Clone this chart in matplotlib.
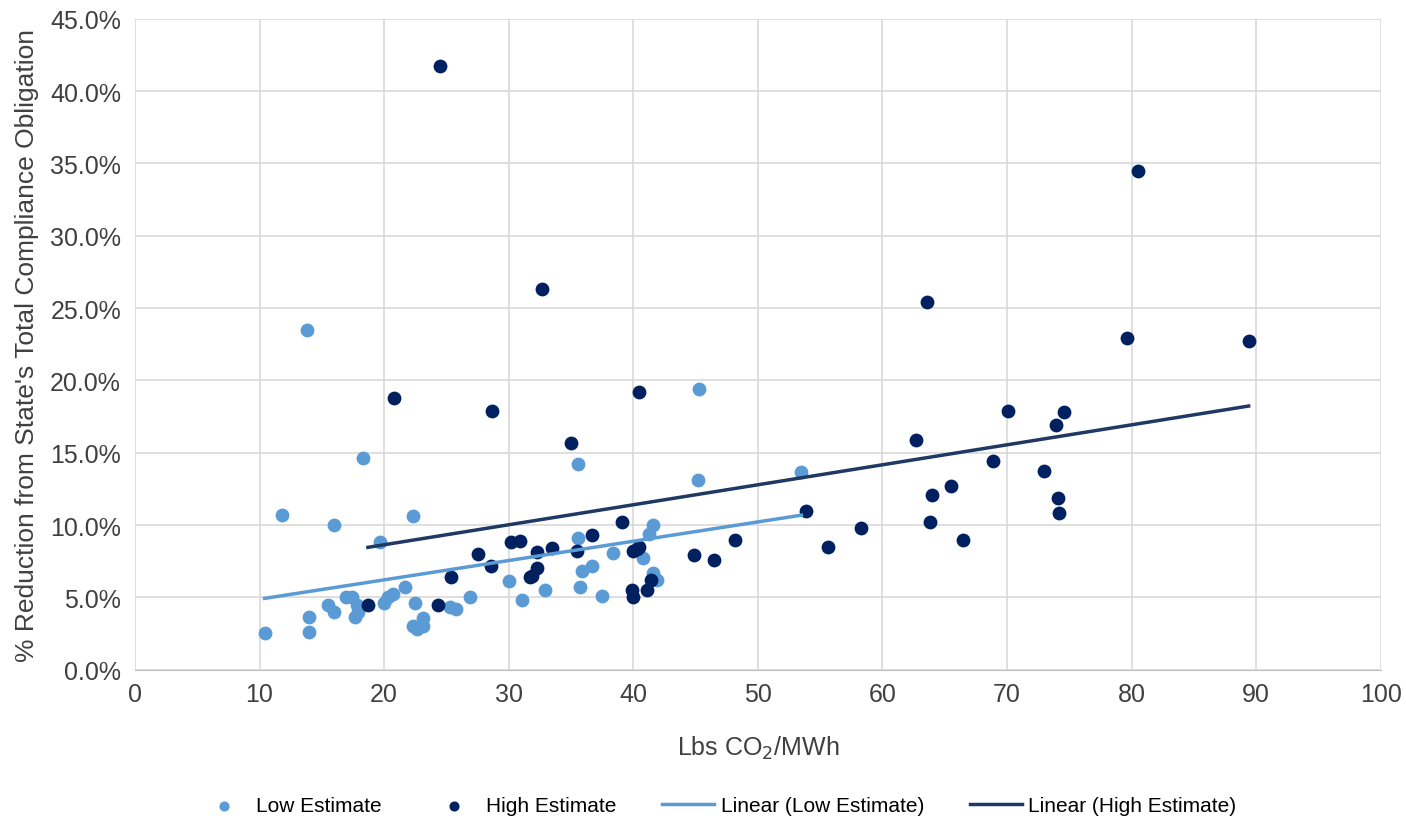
import matplotlib.pyplot as plt
import numpy as np
from matplotlib.ticker import PercentFormatter

plt.rcParams["font.family"] = ["Liberation Sans", "DejaVu Sans"]

# Low estimate (lbs CO2/MWh, % reduction)
low_x = [10.4, 11.8, 13.8, 14.0, 14.0, 15.5, 16.0, 16.0, 16.9, 17.4, 17.8, 17.7,
         17.9, 18.3, 19.7, 20.0, 20.3, 20.7, 21.7, 22.3, 22.5, 22.3, 22.6, 23.1,
         23.1, 25.3, 25.8, 26.9, 30.0, 31.1, 32.9, 35.6, 35.6, 35.9, 35.7, 36.7,
         37.5, 38.4, 40.8, 41.3, 41.6, 41.6, 41.9, 45.3, 45.2, 53.5]
low_y = [2.55, 10.7, 23.5, 2.6, 3.65, 4.5, 4.0, 10.0, 5.0, 5.0, 4.5, 3.65,
         4.0, 14.65, 8.8, 4.6, 5.0, 5.25, 5.7, 10.6, 4.6, 3.05, 2.8, 3.6,
         3.05, 4.35, 4.2, 5.05, 6.15, 4.8, 5.5, 14.2, 9.1, 6.8, 5.7, 7.2,
         5.1, 8.1, 7.7, 9.4, 10.0, 6.7, 6.2, 19.4, 13.1, 13.7]

# High estimate
high_x = [18.7, 20.8, 24.3, 24.5, 25.4, 27.5, 28.6, 28.7, 30.2, 30.9, 31.7, 31.9,
          32.3, 32.3, 32.7, 33.5, 35.0, 35.5, 36.7, 39.1, 40.0, 40.3, 40.5, 39.9,
          40.0, 40.5, 41.1, 41.4, 44.9, 46.5, 48.2, 53.9, 55.6, 58.3, 62.7, 63.6,
          63.8, 64.0, 65.5, 66.5, 68.9, 70.1, 73.0, 73.9, 74.1, 74.2, 74.6, 79.6,
          80.5, 89.4]
high_y = [4.5, 18.8, 4.5, 41.7, 6.4, 8.0, 7.2, 17.9, 8.85, 8.9, 6.4, 6.5,
          7.0, 8.15, 26.3, 8.4, 15.7, 8.2, 9.3, 10.2, 8.2, 8.35, 8.5, 5.5,
          5.0, 19.2, 5.5, 6.2, 7.9, 7.6, 9.0, 11.0, 8.5, 9.8, 15.9, 25.4,
          10.2, 12.1, 12.7, 9.0, 14.4, 17.9, 13.75, 16.9, 11.9, 10.85, 17.8, 22.9,
          34.5, 22.7]

light = "#5B9BD5"
dark = "#002060"

fig = plt.figure(figsize=(14.06, 8.2), dpi=100)
ax = fig.add_axes([0.096, 0.182, 0.886, 0.794])

ax.scatter(low_x, low_y, s=80, color=light, zorder=3, label="Low Estimate")
ax.scatter(high_x, high_y, s=80, color=dark, zorder=3, label="High Estimate")

# least-squares trend lines, drawn across each series' x range
for xs, ys, c, name in [(low_x, low_y, light, "Linear (Low Estimate)"),
                        (high_x, high_y, "#1F3864", "Linear (High Estimate)")]:
    m, b = np.polyfit(xs, ys, 1)
    xx = np.array([min(xs), max(xs)])
    ax.plot(xx, m * xx + b, color=c, lw=2.5, zorder=4, label=name)

ax.set_xlim(0, 100)
ax.set_ylim(0, 45)
ax.set_xticks(np.arange(0, 101, 10))
ax.set_yticks(np.arange(0, 46, 5))
ax.yaxis.set_major_formatter(PercentFormatter(decimals=1))
ax.grid(True, color="#D9D9D9", lw=1.2)
ax.set_axisbelow(True)
for s in ["top", "right", "left"]:
    ax.spines[s].set_visible(False)
ax.spines["bottom"].set_color("#BFBFBF")
ax.tick_params(length=0, labelsize=18, colors="#404040")
ax.tick_params(axis="y", pad=10)
ax.tick_params(axis="x", pad=9)

ax.set_xlabel("Lbs CO$_2$/MWh", fontsize=18, color="#404040", labelpad=20)
ax.set_ylabel("% Reduction from State's Total Compliance Obligation",
              fontsize=19, color="#404040", labelpad=8)

handles, labels = ax.get_legend_handles_labels()
fig.legend(handles, labels, loc="lower center", ncol=4, frameon=False,
           bbox_to_anchor=(0.51, -0.018), handlelength=2.5, handletextpad=0.3,
           columnspacing=2.2, markerscale=0.7,
           prop={"family": ["Liberation Sans Narrow", "Liberation Sans"], "size": 15})

fig.savefig("out.png", dpi=100)
